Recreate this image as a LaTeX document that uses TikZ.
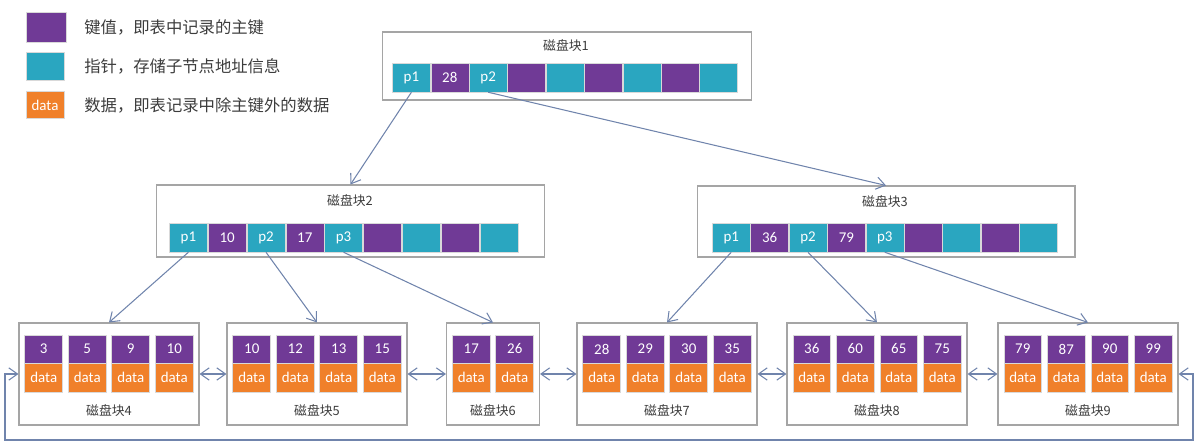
\documentclass[tikz,border=0pt]{standalone}
\usepackage{fontspec}
\setmainfont{Carlito}
\newfontfamily\cjk{Noto Sans CJK SC}
\usetikzlibrary{arrows.meta}
\definecolor{keypurple}{RGB}{112,58,150}
\definecolor{ptrteal}{RGB}{42,166,192}
\definecolor{datorange}{RGB}{240,128,42}
\definecolor{boxgray}{RGB}{165,165,165}
\definecolor{linkblue}{RGB}{112,132,172}
\definecolor{textgray}{RGB}{60,60,60}

\begin{document}
\begin{tikzpicture}[x=0.02cm, y=-0.02cm,
  box/.style={rectangle, draw=boxgray, fill=white, line width=0.6pt},
  cell/.style={rectangle, draw=white!85!black, line width=0.3pt, text=white,
               font=\fontsize{8.5}{10}\selectfont, minimum width=0.76cm,
               minimum height=0.58cm, inner sep=0pt},
  key/.style={cell, fill=keypurple},
  ptr/.style={cell, fill=ptrteal},
  dat/.style={cell, fill=datorange},
  title/.style={font=\cjk\fontsize{7.3}{9}\selectfont, text=textgray},
  legend/.style={font=\cjk\fontsize{9.3}{11}\selectfont, text=textgray,
                 anchor=west, inner sep=0pt},
  link/.style={-{Straight Barb[length=5pt,width=7pt]}, draw=linkblue, line width=0.6pt},
  dlink/.style={{Straight Barb[length=5pt,width=7pt]}-{Straight Barb[length=5pt,width=7pt]},
                draw=linkblue, line width=0.6pt}
]
\useasboundingbox (0,0) rectangle (1200,445);

% legend
\node[key, minimum width=0.8cm, minimum height=0.6cm] (lgkey) at (46,27) {};
\node[ptr, minimum height=0.56cm] (lgptr) at (45,66) {};
\node[dat, minimum height=0.54cm] (lgdat) at (45,105) {data};
\node[legend] (lgkeytxt) at (84,27) {键值，即表中记录的主键};
\node[legend] (lgptrtxt) at (84,66) {指针，存储子节点地址信息};
\node[legend] (lgdattxt) at (84,105) {数据，即表记录中除主键外的数据};

% root block
\node[box, minimum width=7.4cm, minimum height=1.36cm] (blk1) at (567,66) {};
\node[title] (blk1t) at (566,46) {磁盘块1};
\foreach \i/\st/\txt in {1/ptr/p1,2/key/28,3/ptr/p2,4/key/,5/ptr/,6/key/,7/ptr/,8/key/,9/ptr/}
  \node[\st] (b1c\i) at (373+38.4*\i, 77.5) {\txt};

% second level
\node[box, minimum width=7.78cm, minimum height=1.44cm] (blk2) at (350.5,221) {};
\node[title] (blk2t) at (350,201) {磁盘块2};
\foreach \i/\st/\txt in {1/ptr/p1,2/key/10,3/ptr/p2,4/key/17,5/ptr/p3,6/key/,7/ptr/,8/key/,9/ptr/}
  \node[\st] (b2c\i) at (149.6+38.8*\i, 237.5) {\txt};

\node[box, minimum width=7.56cm, minimum height=1.42cm] (blk3) at (886,221.5) {};
\node[title] (blk3t) at (885,202) {磁盘块3};
\foreach \i/\st/\txt in {1/ptr/p1,2/key/36,3/ptr/p2,4/key/79,5/ptr/p3,6/key/,7/ptr/,8/key/,9/ptr/}
  \node[\st] (b3c\i) at (692.8+38.4*\i, 237.5) {\txt};

% leaves
\foreach \n/\cx/\m/\keys in {4/109/4/{3,5,9,10}, 5/317/4/{10,12,13,15},
    6/493/2/{17,26}, 7/667/4/{28,29,30,35}, 8/877/4/{36,60,65,75},
    9/1088/4/{79,87,90,99}} {
  \node[box, minimum width={(\m*43.5+6)*0.02cm}, minimum height=2.04cm] (leaf\n) at (\cx,374) {};
  \node[title] (leaf\n-t) at (\cx,411) {磁盘块\n};
  \foreach \k [count=\j] in \keys {
    \node[key, minimum height=0.56cm] (k\n-\j) at ({\cx+(\j-(\m+1)/2)*43.5}, 349) {\k};
    \node[dat] (d\n-\j) at ({\cx+(\j-(\m+1)/2)*43.5}, 377.5) {data};
  }
}

% pointers
\draw[link] (b1c1.south) -- (blk2.north);
\draw[link] (b1c3.south) -- (blk3.north);
\draw[link] (b2c1.south) -- (leaf4.north);
\draw[link] (b2c3.south) -- (leaf5.north);
\draw[link] (b2c5.south) -- (leaf6.north);
\draw[link] (b3c1.south) -- (leaf7.north);
\draw[link] (b3c3.south) -- (leaf8.north);
\draw[link] (b3c5.south) -- (leaf9.north);

% leaf chain
\foreach \a/\b in {4/5,5/6,6/7,7/8,8/9}
  \draw[dlink] (leaf\a.east) -- (leaf\b.west);
\coordinate (loopl) at (5,440);
\coordinate (loopr) at (1193,440);
\draw[dlink] (leaf4.west) -| (loopl) -- (loopr) |- (leaf9.east);

\end{tikzpicture}
\end{document}
